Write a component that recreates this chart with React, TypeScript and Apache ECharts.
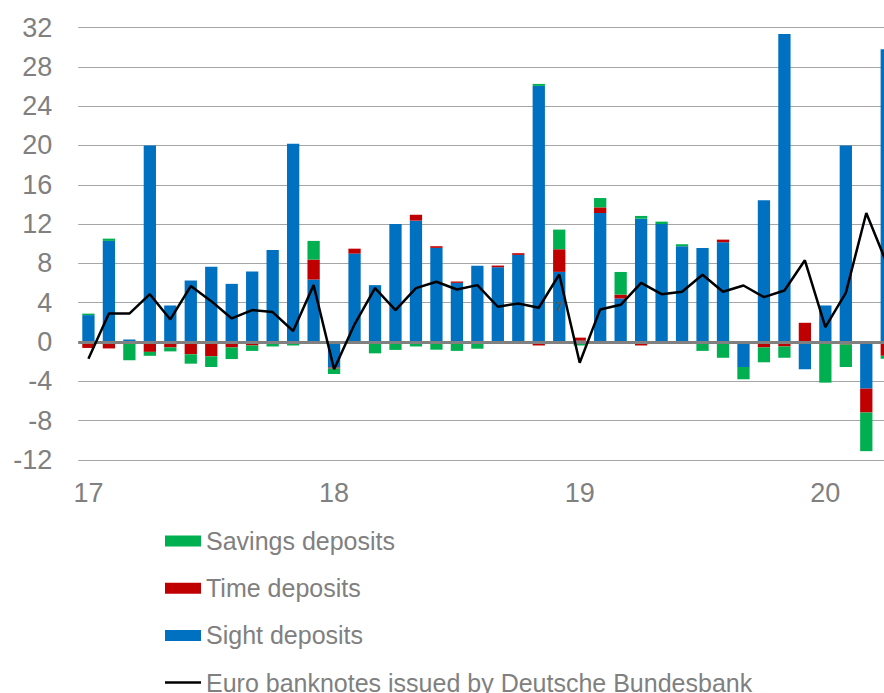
import React, { useEffect, useRef } from "react";
import * as echarts from "echarts";

const months = [
  "2017-01", "2017-02", "2017-03", "2017-04", "2017-05", "2017-06", "2017-07", "2017-08", "2017-09", "2017-10", "2017-11", "2017-12",
  "2018-01", "2018-02", "2018-03", "2018-04", "2018-05", "2018-06", "2018-07", "2018-08", "2018-09", "2018-10", "2018-11", "2018-12",
  "2019-01", "2019-02", "2019-03", "2019-04", "2019-05", "2019-06", "2019-07", "2019-08", "2019-09", "2019-10", "2019-11", "2019-12",
  "2020-01", "2020-02", "2020-03", "2020-04",
];

const sightDeposits = [
  2.74, 10.29, 0.27, 20.0, 3.72, 6.26, 7.65, 5.92, 7.17, 9.37, 20.17, 6.36,
  -2.6, 9.0, 5.79, 12.0, 12.35, 9.58, 6.02, 7.75, 7.61, 8.87, 26.06, 7.14,
  0.15, 13.13, 4.43, 12.55, 12.0, 9.75, 9.58, 10.15, -2.54, 14.42, 31.34, -2.77,
  3.72, 20.0, -4.74, 29.8,
];

const timeDeposits = [
  -0.6, -0.65, 0, -1.0, -0.55, -1.25, -1.45, -0.55, -0.35, 0, 0, 2.03,
  -0.1, 0.5, 0, 0, 0.6, 0.17, 0.14, 0, 0.17, 0.17, -0.35, 2.3,
  0.3, 0.57, 0.4, -0.35, -0.2, 0, 0, 0.27, 0, -0.55, -0.45, 1.96,
  0, -0.25, -2.43, -1.4,
];

const savingsDeposits = [
  0.15, 0.23, -1.85, -0.4, -0.4, -0.95, -1.09, -1.18, -0.55, -0.45, -0.35, 1.9,
  -0.55, -0.1, -1.15, -0.8, -0.45, -0.78, -0.9, -0.68, 0, 0, 0.2, 2.0,
  -0.35, 0.95, 2.3, 0.28, 0.25, 0.2, -0.9, -1.6, -1.25, -1.51, -1.15, 0,
  -4.13, -2.29, -3.93, -0.3,
];

const euroBanknotes = [
  -1.7, 2.9, 2.9, 4.87, 2.3, 5.69, 4.16, 2.4, 3.25, 3.05, 1.12, 5.79,
  -2.77, 1.8, 5.48, 3.25, 5.48, 6.13, 5.35, 5.79, 3.59, 3.93, 3.49, 6.87,
  -2.1, 3.32, 3.79, 6.02, 4.87, 5.11, 6.84, 5.11, 5.75, 4.57, 5.25, 8.32,
  1.52, 5.0, 13.13, 8.0,
];

const legendNames = [
  "Savings deposits",
  "Time deposits",
  "Sight deposits",
  "Euro banknotes issued by Deutsche Bundesbank",
];

// stray data label visible in the source picture
const strayLabel = { month: "2018-12", value: 3.6, text: "7" };

const FONT = "'Liberation Sans', Arial, Helvetica, sans-serif";
const GREY = "#808080";

export default function App() {
  const ref = useRef<HTMLDivElement>(null);

  useEffect(() => {
    if (!ref.current) return;
    const chart = echarts.init(ref.current, null, { renderer: "svg" });
    chart.setOption({
      animation: false,
      backgroundColor: "#ffffff",
      textStyle: { fontFamily: FONT },
      grid: { left: 78.2, right: 0, top: 27.5, bottom: 300, containLabel: false },
      legend: {
        data: [
          { name: legendNames[0], icon: "rect" },
          { name: legendNames[1], icon: "rect" },
          { name: legendNames[2], icon: "rect" },
          {
            name: legendNames[3],
            icon: "path://M0 0H36V2.5H0Z",
            itemStyle: { color: "#000000", borderWidth: 0 },
          },
        ],
        orient: "vertical",
        left: 165,
        top: 527.5,
        height: 220,
        padding: 0,
        itemWidth: 36,
        itemHeight: 11,
        itemGap: 20.2,
        selectedMode: false,
        textStyle: { fontSize: 25, lineHeight: 27, color: GREY, fontFamily: FONT },
      },
      xAxis: {
        type: "category",
        data: months,
        boundaryGap: true,
        axisLine: { show: false },
        axisTick: { show: false },
        splitLine: { show: false },
        axisLabel: {
          interval: (idx: number) => idx % 12 === 0,
          formatter: (v: string) => v.slice(2, 4),
          fontSize: 27,
          color: GREY,
          margin: 19,
          fontFamily: FONT,
        },
      },
      yAxis: {
        type: "value",
        min: -12,
        max: 32,
        interval: 4,
        axisLine: { show: false },
        axisTick: { show: false },
        axisLabel: { fontSize: 27, color: GREY, margin: 26, fontFamily: FONT },
        splitLine: { lineStyle: { color: "#a6a6a6", width: 1 } },
      },
      series: [
        {
          name: "Sight deposits",
          type: "bar",
          stack: "dep",
          stackStrategy: "samesign",
          data: sightDeposits,
          barWidth: "60%",
          itemStyle: { color: "#0070C0" },
          markLine: {
            silent: true,
            symbol: ["none", "none"],
            label: { show: false },
            lineStyle: { color: GREY, width: 3, type: "solid" },
            data: [{ yAxis: 0 }],
          },
        },
        {
          name: "Time deposits",
          type: "bar",
          stack: "dep",
          stackStrategy: "samesign",
          data: timeDeposits,
          barWidth: "60%",
          itemStyle: { color: "#C00000" },
        },
        {
          name: "Savings deposits",
          type: "bar",
          stack: "dep",
          stackStrategy: "samesign",
          data: savingsDeposits,
          barWidth: "60%",
          itemStyle: { color: "#00B050" },
        },
        {
          name: "Euro banknotes issued by Deutsche Bundesbank",
          type: "line",
          data: euroBanknotes,
          symbol: "none",
          showSymbol: false,
          z: 5,
          lineStyle: { color: "#000000", width: 2.5 },
          itemStyle: { color: "#000000" },
          markPoint: {
            symbol: "circle",
            symbolSize: 1,
            itemStyle: { color: "rgba(0,0,0,0)" },
            label: {
              show: true,
              position: "inside",
              formatter: strayLabel.text,
              color: "#595959",
              fontSize: 13,
              fontWeight: "bold",
              fontFamily: FONT,
            },
            data: [{ coord: [strayLabel.month, strayLabel.value] }],
          },
        },
      ],
    });
    return () => chart.dispose();
  }, []);

  return (
    <div style={{ position: "absolute", left: 0, top: 0, width: 884, height: 693, overflow: "hidden", background: "#fff" }}>
      <div ref={ref} style={{ width: 897, height: 760 }} />
    </div>
  );
}
